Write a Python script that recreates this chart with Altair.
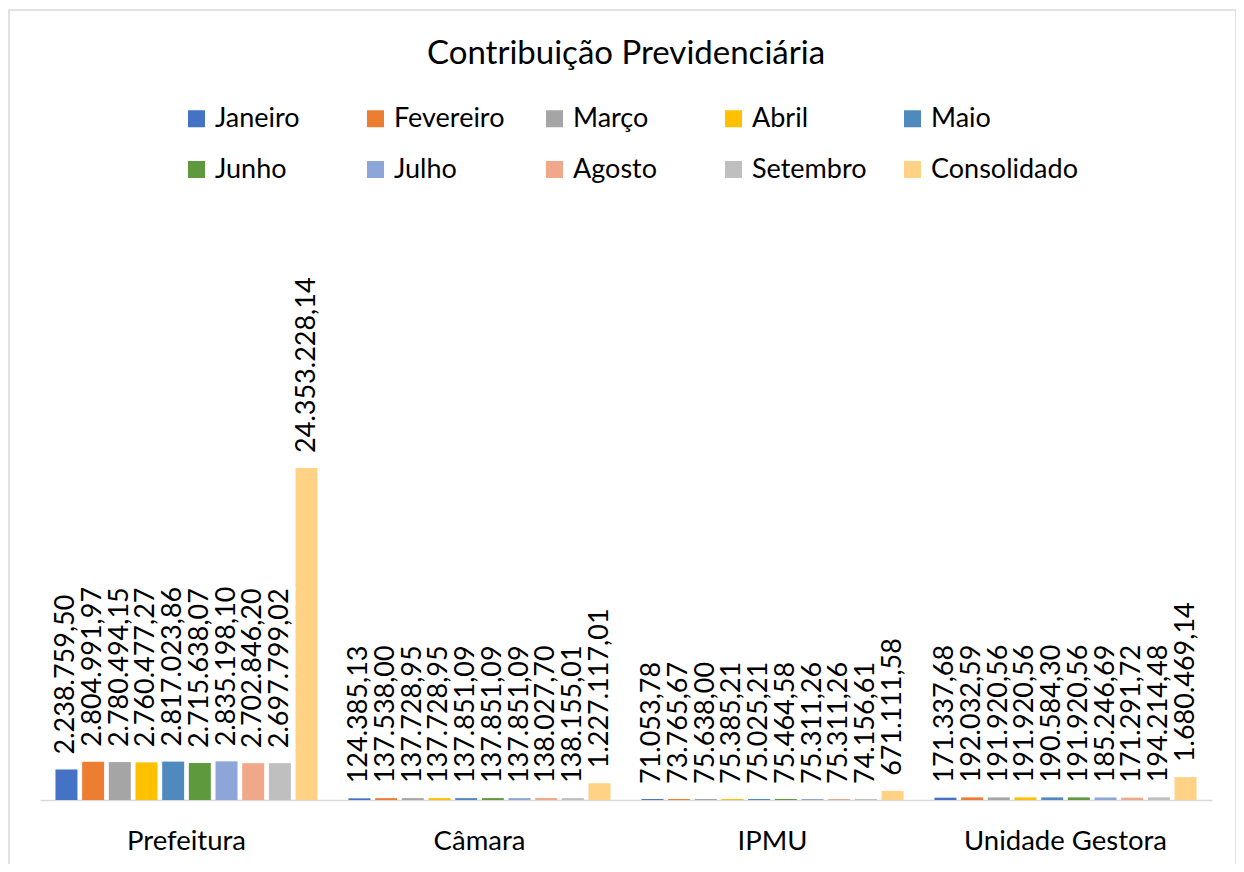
import altair as alt
import pandas as pd

categories = ["Prefeitura", "Câmara", "IPMU", "Unidade Gestora"]
months = ["Janeiro", "Fevereiro", "Março", "Abril", "Maio",
          "Junho", "Julho", "Agosto", "Setembro", "Consolidado"]
colors = ["#4472C4", "#ED7D31", "#A5A5A5", "#FFC000", "#4F89BE",
          "#5F993D", "#8EA6D7", "#F1A88A", "#BFBFBF", "#FFD285"]

prefeitura = [2238759.50, 2804991.97, 2780494.15, 2760477.27, 2817023.86,
              2715638.07, 2835198.10, 2702846.20, 2697799.02, 24353228.14]
camara = [124385.13, 137538.00, 137728.95, 137728.95, 137851.09,
          137851.09, 137851.09, 138027.70, 138155.01, 1227117.01]
ipmu = [71053.78, 73765.67, 75638.00, 75385.21, 75025.21,
        75464.58, 75311.26, 75311.26, 74156.61, 671111.58]
unidade = [171337.68, 192032.59, 191920.56, 191920.56, 190584.30,
           191920.56, 185246.69, 171291.72, 194214.48, 1680469.14]

series = [prefeitura, camara, ipmu, unidade]


def br(v):
    s = f"{v:,.2f}"
    return s.replace(",", "X").replace(".", ",").replace("X", ".")


rows = []
for cat, vals in zip(categories, series):
    for m, v in zip(months, vals):
        rows.append({"cat": cat, "mes": m, "valor": v, "rotulo": br(v)})
df = pd.DataFrame(rows)

FONT = "Lato"
W, H = 1172, 600

x_enc = alt.X("cat:N", sort=categories, title=None,
              scale=alt.Scale(paddingInner=0, paddingOuter=0),
              axis=alt.Axis(labelAngle=0, ticks=False, domainColor="#D9D9D9",
                            domainWidth=1.5, labelFont=FONT, labelFontSize=27.5,
                            labelColor="#000000", labelPadding=27, labelLimit=400,
                            grid=False))
xo_enc = alt.XOffset("mes:N", sort=months,
                     scale=alt.Scale(paddingInner=0.176, paddingOuter=0.58))
y_enc = alt.Y("valor:Q", scale=alt.Scale(domain=[0, 44000000]), axis=None)

bars = alt.Chart(df).mark_bar(size=22).encode(
    x=x_enc, xOffset=xo_enc, y=y_enc,
    color=alt.Color("mes:N", sort=months,
                    scale=alt.Scale(domain=months, range=colors),
                    legend=alt.Legend(title=None, orient="none", legendX=143,
                                      legendY=-95, direction="horizontal",
                                      columns=5, gridAlign="all",
                                      symbolType="square", symbolSize=289,
                                      symbolStrokeWidth=0, labelFont=FONT,
                                      labelFontSize=27, labelColor="#000000",
                                      labelOffset=5, columnPadding=-6.5,
                                      rowPadding=23, labelLimit=400)),
)

labels = alt.Chart(df).mark_text(angle=270, align="left", baseline="middle",
                                 dx=15, font=FONT, fontSize=27,
                                 color="#000000").encode(
    x=x_enc, xOffset=xo_enc, y=y_enc, text="rotulo:N")

border = alt.Chart(pd.DataFrame({"a": [0]})).mark_rect(
    fill=None, stroke="#D9D9D9", strokeWidth=1.5).encode(
    x=alt.value(-31), x2=alt.value(1196), y=alt.value(-190), y2=alt.value(690))

chart = alt.layer(border, bars, labels).properties(
    width=W, height=H,
    title=alt.TitleParams("Contribuição Previdenciária", font=FONT, fontSize=33,
                          fontWeight="normal", color="#000000", anchor="middle",
                          offset=0, dy=62),
    autosize=alt.AutoSizeParams(type="none"),
    padding={"left": 32, "top": 192, "right": 24, "bottom": 64},
).configure_view(stroke=None)

chart.save("out.html", embed_options={"renderer": "svg", "actions": False})
